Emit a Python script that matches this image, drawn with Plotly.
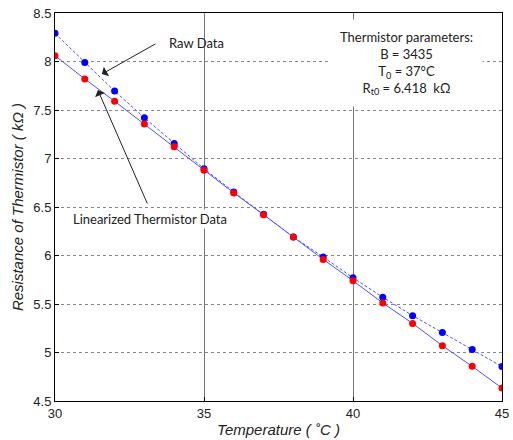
import plotly.graph_objects as go

temps = [30, 31, 32, 33, 34, 35, 36, 37, 38, 39, 40, 41, 42, 43, 44, 45]
raw_kohm = [8.29, 7.99, 7.695, 7.42, 7.155, 6.895, 6.655, 6.425, 6.19, 5.985, 5.77, 5.57, 5.38, 5.205, 5.03, 4.855]
lin_kohm = [8.06, 7.82, 7.59, 7.355, 7.12, 6.88, 6.645, 6.42, 6.19, 5.96, 5.74, 5.51, 5.30, 5.07, 4.857, 4.633]

x_ticks = [30, 35, 40, 45]
y_ticks = [4.5, 5, 5.5, 6, 6.5, 7, 7.5, 8, 8.5]

line_col = "rgb(80,80,255)"
fig = go.Figure()
fig.add_trace(go.Scatter(x=temps, y=raw_kohm, mode="lines+markers",
                         line=dict(color=line_col, width=1, dash="3px,2px"),
                         marker=dict(color="#0000ff", size=7), name="Raw Data"))
fig.add_trace(go.Scatter(x=temps, y=lin_kohm, mode="lines+markers",
                         line=dict(color=line_col, width=1),
                         marker=dict(color="#ff0000", size=7), name="Linearized"))

ann_font = dict(family="Lato, Open Sans, sans-serif", size=13, color="#222")
fig.add_annotation(x=34.75, y=8.19, text="Raw Data", showarrow=False, font=ann_font, xref="x", yref="y")
fig.add_annotation(x=31.57, y=7.87, ax=33.42, ay=8.19, axref="x", ayref="y", xref="x", yref="y",
                   text="", showarrow=True, arrowhead=1, arrowsize=1.8, arrowwidth=1, arrowcolor="#222")
fig.add_annotation(x=33.19, y=6.38, text="Linearized Thermistor Data", showarrow=False, font=ann_font,
                   bgcolor="white", xref="x", yref="y")
fig.add_annotation(x=31.44, y=7.705, ax=33.12, ay=6.52, axref="x", ayref="y", xref="x", yref="y",
                   text="", showarrow=True, arrowhead=1, arrowsize=1.8, arrowwidth=1, arrowcolor="#222")
fig.add_annotation(x=41.81, y=7.98, xref="x", yref="y", showarrow=False, bgcolor="white",
                   borderpad=9, align="center", font=ann_font,
                   text="Thermistor parameters:<br>B = 3435<br>T<sub>0</sub> = 37°C<br>R<sub>t0</sub> = 6.418  kΩ")

fig.update_layout(
    width=513, height=440, margin=dict(l=55, r=11, t=13, b=39, autoexpand=False),
    paper_bgcolor="white", plot_bgcolor="white", showlegend=False,
    font=dict(family="Liberation Sans, Arial, sans-serif", size=13, color="#222"),
)
fig.update_xaxes(range=[30, 45], tickvals=x_ticks, ticktext=[str(v) for v in x_ticks],
                 automargin=False,
                 showline=True, linecolor="black", linewidth=1, mirror=True,
                 ticks="inside", ticklen=4, tickcolor="black",
                 showgrid=True, gridcolor="#777", griddash="solid", gridwidth=1, zeroline=False,
                 title=dict(text="<i>Temperature ( ˚C )</i>", font=dict(size=15), standoff=4))
fig.update_yaxes(range=[4.5, 8.5], tickvals=y_ticks, ticktext=[f"{v:g}" for v in y_ticks],
                 automargin=False,
                 showline=True, linecolor="black", linewidth=1, mirror=True,
                 ticks="inside", ticklen=4, tickcolor="black",
                 showgrid=True, gridcolor="#888", griddash="dot", gridwidth=1, zeroline=False,
                 title=dict(text="<i>Resistance of Thermistor ( kΩ )</i>", font=dict(size=15), standoff=6))

fig.write_html("out.html", config={"displayModeBar": False},
               post_script="document.body.style.margin='0';")
